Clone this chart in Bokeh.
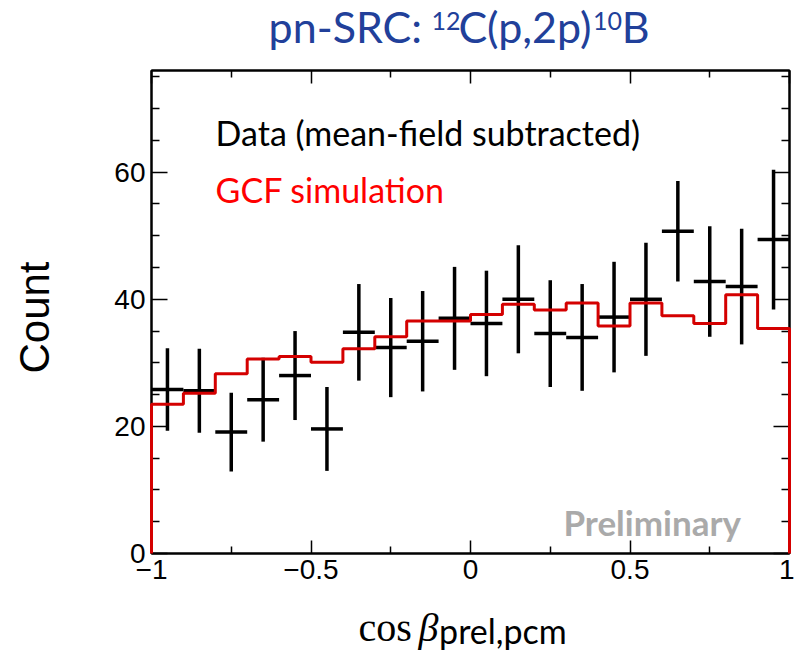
import numpy as np
from bokeh.plotting import figure
from bokeh.models import Range1d, FixedTicker, LinearAxis
from bokeh.layouts import row, column
from bokeh.core.properties import value
from bokeh.embed import file_html
from bokeh.resources import INLINE

# ---- data ----
bin_edges = [-1.0, -0.9, -0.8, -0.7, -0.6, -0.5, -0.4, -0.3, -0.2, -0.1, 0.0,
             0.1, 0.2, 0.3, 0.4, 0.5, 0.6, 0.7, 0.8, 0.9, 1.0]
data_counts = [25.8, 25.6, 19.1, 24.2, 28.0, 19.6, 34.8, 32.4, 33.4, 37.0,
               36.2, 40.0, 34.6, 34.0, 37.2, 40.0, 50.7, 42.8, 42.0, 49.4]
data_errors = [6.5, 6.6, 6.2, 6.6, 7.0, 6.6, 7.6, 7.8, 7.9, 8.1,
               8.3, 8.5, 8.4, 8.4, 8.7, 8.9, 7.9, 8.7, 9.1, 11.0]
gcf_counts = [23.5, 25.2, 28.3, 30.6, 31.0, 30.1, 32.2, 34.1, 36.6, 36.6,
              37.6, 39.2, 38.3, 39.4, 35.8, 39.4, 37.4, 36.2, 40.7, 35.4]

x_ticks = [-1.0, -0.5, 0.0, 0.5, 1.0]
x_tick_labels = ["\u22121", "\u22120.5", "0", "0.5", "1"]
x_minor = [-0.75, -0.25, 0.25, 0.75]
y_ticks = [0, 20, 40, 60]
y_tick_labels = ["0", "20", "40", "60"]
y_minor = [5, 10, 15, 25, 30, 35, 45, 50, 55, 65, 70, 75]

edges = np.array(bin_edges)
lefts, rights = edges[:-1], edges[1:]
centers = 0.5 * (lefts + rights)
dc = np.array(data_counts)
de = np.array(data_errors)
gc = np.array(gcf_counts)

# step outline of simulation histogram
sx = np.concatenate([[edges[0]], np.repeat(edges, 2)[1:-1], [edges[-1]]])
sy = np.concatenate([[0.0], np.repeat(gc, 2), [0.0]])

FONT = "Lato"
TICKFONT = "Liberation Sans"
SERIF = "Liberation Serif"
TC = "#21409a"

LEFT_W = 100
TITLE_H = 60
MAIN_H = 535
XLAB_H = 652 - TITLE_H - MAIN_H
MAIN_W = 794 - LEFT_W

xr = Range1d(-1, 1)
p = figure(width=MAIN_W, height=MAIN_H, output_backend="svg", toolbar_location=None,
           x_range=xr, y_range=Range1d(0, 76),
           min_border_left=151 - LEFT_W, min_border_right=5, min_border_top=70 - TITLE_H,
           min_border_bottom=42)
p.background_fill_color = "white"
p.border_fill_color = "white"
p.outline_line_color = "black"
p.outline_line_width = 2
p.xgrid.visible = False
p.ygrid.visible = False


def style_axis(ax, ticks, minor, labels, show_labels, tin, tmin):
    ax.ticker = FixedTicker(ticks=ticks, minor_ticks=minor)
    ax.axis_line_color = "black"
    ax.axis_line_width = 2
    ax.major_tick_line_color = "black"
    ax.major_tick_line_width = 1.5
    ax.minor_tick_line_color = "black"
    ax.minor_tick_line_width = 1.5
    ax.major_tick_in = tin
    ax.major_tick_out = 0
    ax.minor_tick_in = tmin
    ax.minor_tick_out = 0
    if show_labels:
        ax.major_label_overrides = {t: l for t, l in zip(ticks, labels)}
        ax.major_label_text_font = TICKFONT
        ax.major_label_text_font_size = "28px"
        ax.major_label_text_color = "black"
        ax.major_label_standoff = 6
    else:
        ax.major_label_text_color = None
        ax.major_label_text_font_size = "1px"
        ax.major_label_standoff = 0


style_axis(p.xaxis[0], x_ticks, x_minor, x_tick_labels, True, 13, 7)
style_axis(p.yaxis[0], y_ticks, y_minor, y_tick_labels, True, 16, 8)
top_ax = LinearAxis()
right_ax = LinearAxis()
style_axis(top_ax, x_ticks, x_minor, x_tick_labels, False, 13, 7)
style_axis(right_ax, y_ticks, y_minor, y_tick_labels, False, 16, 8)
p.add_layout(top_ax, "above")
p.add_layout(right_ax, "right")

# simulation histogram
p.line(sx, sy, line_color="#d40000", line_width=3, level="overlay")

# data crosses
p.segment(x0=centers, y0=dc - de, x1=centers, y1=dc + de, line_color="black", line_width=3.5)
p.segment(x0=lefts, y0=dc, x1=rights, y1=dc, line_color="black", line_width=3.5)


def txt(f, x, y, text, size, color="black", font=FONT, style="normal", align="left",
        baseline="alphabetic", angle=0):
    f.text(x=[x], y=[y], text=[text], text_font=value(font), text_font_size=size,
           text_color=color, text_font_style=style, text_align=align,
           text_baseline=baseline, angle=angle)


# legend texts inside the frame
txt(p, -0.799, 66.2, "Data (mean-field subtracted)", "34px", "black")
txt(p, -0.799, 57.2, "GCF simulation", "34px", "#ff0000")
txt(p, 0.2915, 4.9, "Preliminary", "35px", "#aaaaaa", style="bold")


def text_fig(w, h, x_range):
    f = figure(width=w, height=h, x_range=x_range, y_range=Range1d(h, 0),
               output_backend="svg", toolbar_location=None, min_border=0,
               x_axis_type=None, y_axis_type=None)
    f.grid.visible = False
    f.outline_line_color = None
    f.background_fill_color = "white"
    f.border_fill_color = "white"
    return f


# title (x positions in the shared x units of the frame)
tf = text_fig(MAIN_W, TITLE_H, xr)
txt(tf, -0.633, 26, "pn-SRC:", "43px", TC)
txt(tf, -0.122, 20, "12", "25px", TC)
txt(tf, -0.038, 26, "C(p,2p)", "43px", TC)
txt(tf, 0.384, 20, "10", "25px", TC)
txt(tf, 0.474, 26, "B", "43px", TC)

# x axis title
xf = text_fig(MAIN_W, XLAB_H, xr)
txt(xf, -0.351, 32, "cos", "40px", "black", font=SERIF)
txt(xf, -0.163, 32, "\u03b2", "40px", "black", font=SERIF, style="italic")
txt(xf, -0.0985, 35, "prel,pcm", "34px", "black")

# y axis title
lf = text_fig(LEFT_W, 652, Range1d(0, LEFT_W))
txt(lf, 34, 317, "Count", "42px", "black", font=TICKFONT, align="center",
    baseline="middle", angle=np.pi / 2)

layout = row(lf, column(tf, p, xf))
open("out.html", "w").write(file_html(layout, INLINE))
